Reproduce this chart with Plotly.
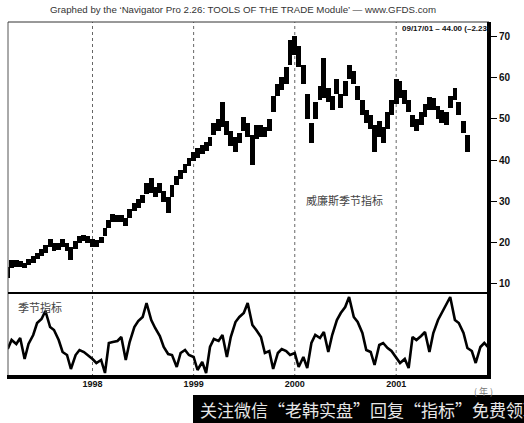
import pandas as pd
import plotly.graph_objects as go
from plotly.subplots import make_subplots

# ---------------- data ----------------
price_dates = pd.date_range("1997-03-01", "2001-09-15", freq="SMS")
price_low = [
    11.5, 13.8, 14.2, 14.0, 13.8, 14.5, 15.2, 16.0, 16.8, 17.6, 19.0, 18.0, 18.2, 19.0, 18.0, 15.8, 18.5, 19.8, 20.3, 20.0,
    19.0, 19.0, 19.8, 21.5, 23.5, 25.0, 25.0, 25.0, 24.0, 26.0, 27.6, 28.5, 29.5, 31.8, 32.0, 31.0, 32.0, 29.8, 27.2, 31.0, 34.0, 35.4, 36.8, 38.5,
    39.8, 40.5, 41.5, 42.2, 43.3, 46.0, 47.0, 48.0, 46.0, 43.5, 42.0, 44.0, 47.0, 45.5, 38.7, 45.0, 45.5, 45.5, 47.0, 51.5, 55.5, 57.0, 58.5, 63.0,
    65.5, 62.5, 58.5, 50.0, 44.0, 50.0, 54.5, 55.0, 54.0, 52.0, 56.0, 52.5, 55.5, 59.5, 58.5, 54.5, 51.0, 49.0, 47.5, 41.9, 45.5, 44.0, 47.5, 51.0,
    53.5, 55.0, 53.5, 51.5, 48.0, 47.0, 48.5, 50.5, 52.0, 52.0, 50.0, 49.0, 48.5, 52.5, 54.5, 51.0, 46.5, 41.9,
]
price_high = [
    14.0, 15.8, 15.8, 15.5, 15.2, 16.0, 16.8, 17.6, 18.5, 19.5, 20.8, 20.0, 20.0, 20.8, 19.8, 19.0, 20.5, 21.5, 21.8, 21.6,
    20.8, 20.6, 21.4, 23.5, 25.5, 27.0, 26.8, 26.8, 26.0, 28.2, 29.5, 30.5, 31.5, 34.5, 35.6, 33.5, 34.5, 32.5, 31.0, 34.0, 36.2, 37.5, 39.0, 40.5,
    42.0, 42.8, 43.6, 44.4, 45.6, 49.0, 50.0, 54.0, 49.5, 47.0, 45.5, 46.5, 50.4, 49.0, 46.0, 48.5, 48.5, 48.0, 50.0, 55.5, 58.5, 60.0, 62.5, 69.0,
    70.0, 67.5, 63.0, 56.0, 49.0, 54.0, 58.0, 64.7, 57.5, 55.5, 59.5, 56.0, 59.0, 63.0, 61.5, 58.0, 54.5, 52.0, 51.0, 48.5, 49.5, 48.0, 51.5, 54.5,
    59.5, 59.0, 57.0, 54.5, 51.0, 50.0, 51.5, 53.5, 55.2, 55.0, 53.0, 52.0, 51.5, 55.5, 57.4, 54.0, 49.5, 46.0,
]

season_dates = pd.date_range("1997-03-01", "2001-12-01", freq="SMS")
season_index = [
    28, 37, 33, 39, 18, 33, 42, 54, 58, 66, 50, 47, 37, 25, 22, 8, 22, 27, 25, 22,
    18, 14, 17, 4, 34, 35, 36, 40, 17, 35, 50, 56, 60, 74, 57, 49, 41, 30, 23, 22, 10, 24, 27, 22,
    20, 7, 15, 4, 30, 38, 36, 42, 20, 40, 55, 60, 64, 74, 52, 47, 40, 24, 26, 8, 24, 28, 26, 22,
    24, 10, 20, 9, 34, 42, 39, 45, 25, 42, 57, 64, 70, 80, 60, 55, 44, 27, 25, 12, 32, 34, 29, 26,
    20, 14, 18, 9, 40, 37, 41, 45, 25, 44, 57, 64, 72, 80, 57, 54, 44, 29, 26, 14, 30, 34, 29,
]

year_ticks = ["1998-01-01", "1999-01-01", "2000-01-01", "2001-01-01"]
year_labels = ["1998", "1999", "2000", "2001"]
price_ticks = [10, 20, 30, 40, 50, 60, 70]

# ---------------- geometry helpers ----------------
W, H = 524, 423
L, R, T, B = 8, 489, 22, 377
def px(x):
    return (x - L) / (R - L)
def py(y):
    return (B - y) / (B - T)

split = (B - 293) / (B - T)

fig = make_subplots(rows=2, cols=1, shared_xaxes=True, vertical_spacing=0,
                    row_heights=[1 - split, split])

heights = [h - l for h, l in zip(price_high, price_low)]
fig.add_trace(go.Bar(x=price_dates, y=heights, base=price_low,
                     width=17.5 * 86400000, marker=dict(color="black", line=dict(width=0)),
                     hoverinfo="skip", showlegend=False), row=1, col=1)

fig.add_trace(go.Scatter(x=season_dates, y=season_index, mode="lines",
                         line=dict(color="black", width=2.6),
                         hoverinfo="skip", showlegend=False), row=2, col=1)

xr = ["1997-03-02", "2001-12-02"]
font_main = "Liberation Sans, Arial, sans-serif"
cjk = "Noto Sans CJK SC, sans-serif"

fig.update_xaxes(range=xr, showgrid=False, zeroline=False, showline=False, ticks="")
fig.update_xaxes(showticklabels=False, row=1, col=1)
fig.update_xaxes(tickvals=year_ticks, ticktext=["<b>%s</b>" % t for t in year_labels],
                 tickfont=dict(family=font_main, size=9, color="#111"),
                 showticklabels=True, row=2, col=1)

fig.update_yaxes(range=[7.82, 73.39], side="right", tickvals=price_ticks,
                 ticktext=["<b>%d</b>" % v for v in price_ticks],
                 tickfont=dict(family=font_main, size=10, color="#111"),
                 ticks="outside", ticklen=7, tickwidth=1, tickcolor="black",
                 showgrid=False, zeroline=False, showline=False, row=1, col=1)
fig.update_yaxes(range=[0, 84], showticklabels=False, showgrid=False,
                 zeroline=False, showline=False, ticks="", row=2, col=1)

shapes = []
for d in year_ticks:
    shapes.append(dict(type="line", xref="x", yref="paper", x0=d, x1=d, y0=0, y1=1,
                       line=dict(color="#666", width=1, dash="dot"), layer="below"))
# frame
shapes.append(dict(type="line", xref="paper", yref="paper", x0=0, x1=0, y0=0, y1=1,
                   line=dict(color="#555", width=1)))
shapes.append(dict(type="line", xref="paper", yref="paper", x0=0, x1=1, y0=1, y1=1,
                   line=dict(color="#333", width=1)))
shapes.append(dict(type="line", xref="paper", yref="paper", x0=0, x1=1, y0=split, y1=split,
                   line=dict(color="black", width=2)))
shapes.append(dict(type="line", xref="paper", yref="paper", x0=1, x1=1, y0=py(379), y1=1,
                   line=dict(color="black", width=4)))
shapes.append(dict(type="line", xref="paper", yref="paper", x0=px(7), x1=px(491), y0=0, y1=0,
                   line=dict(color="black", width=4)))
# watermark band
shapes.append(dict(type="rect", xref="paper", yref="paper", x0=px(193), x1=px(530),
                   y0=py(395), y1=py(430), fillcolor="black", line=dict(width=0)))

annotations = [
    dict(text="Graphed by the \u2018Navigator Pro 2.26: TOOLS OF THE TRADE Module\u2019 \u2014 www.GFDS.com",
         xref="paper", yref="paper", x=px(243), y=py(9), showarrow=False,
         font=dict(family=font_main, size=9.7, color="#333"), xanchor="center", yanchor="middle"),
    dict(text="<b>09/17/01 \u2013 44.00 (\u20132.23)</b>", xref="paper", yref="paper",
         x=px(492), y=py(29), showarrow=False, xanchor="right", yanchor="middle",
         font=dict(family=font_main, size=8, color="#111")),
    dict(text="威廉斯季节指标", xref="paper", yref="paper", x=px(344), y=py(200),
         showarrow=False, xanchor="center", yanchor="middle",
         font=dict(family=cjk, size=11, color="#444")),
    dict(text="季节指标", xref="paper", yref="paper", x=px(40), y=py(307),
         showarrow=False, xanchor="center", yanchor="middle",
         font=dict(family=cjk, size=11, color="#444")),
    dict(text="( 年 )", xref="paper", yref="paper", x=px(483), y=py(391),
         showarrow=False, xanchor="center", yanchor="middle",
         font=dict(family=cjk, size=9, color="#777")),
    dict(text="关注微信\u201c老韩实盘\u201d回复\u201c指标\u201d免费领取", xref="paper", yref="paper",
         x=px(198), y=py(409), showarrow=False, xanchor="left", yanchor="middle",
         font=dict(family=cjk, size=17, color="#e6e6e6")),
]

fig.update_layout(width=W, height=H, margin=dict(l=L, r=W - R, t=T, b=H - B),
                  paper_bgcolor="white", plot_bgcolor="white", bargap=0,
                  shapes=shapes, annotations=annotations, showlegend=False)

fig.write_html("out.html", config={"displayModeBar": False},
               post_script="document.body.style.margin='0';document.body.style.overflow='hidden';")
